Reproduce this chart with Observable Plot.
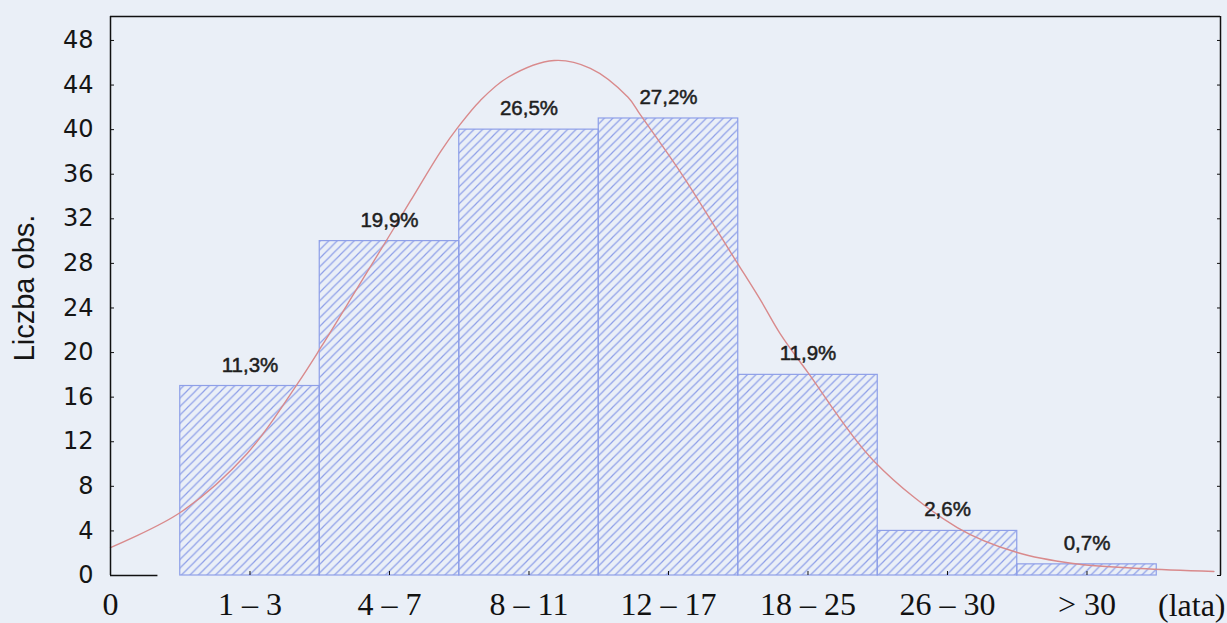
<!DOCTYPE html>
<html>
<head>
<meta charset="utf-8">
<script src="https://cdn.jsdelivr.net/npm/d3@7"></script>
<script src="https://cdn.jsdelivr.net/npm/@observablehq/plot@0.6"></script>
<style>
  html, body { margin: 0; padding: 0; background: #eaeff7; }
  #chart svg { display: block; background: #eaeff7; overflow: visible; }
</style>
</head>
<body>
<div id="chart"></div>
<script>
// ---- data ----
const categories = ["1 – 3", "4 – 7", "8 – 11", "12 – 17", "18 – 25", "26 – 30", "> 30"];
const counts = [17, 30, 40, 41, 18, 4, 1];
const percentLabels = ["11,3%", "19,9%", "26,5%", "27,2%", "11,9%", "2,6%", "0,7%"];
const yTicks = [0, 4, 8, 12, 16, 20, 24, 28, 32, 36, 40, 44, 48];
const yLabel = "Liczba obs.";
const unitLabel = "(lata)";
// fitted normal curve (x in bar-index units, y in counts)
const curveX = [0.00, 0.50, 0.98, 1.34, 1.51, 1.77, 1.99, 2.15, 2.37, 2.49, 2.65, 2.85, 3.18, 3.44, 3.71, 3.80, 4.09, 4.47, 4.66, 4.80, 5.00, 5.47, 6.07, 6.50, 6.90, 7.38, 7.91];
const curveY = [2.51, 5.65, 10.95, 17.2, 20.5, 25.8, 30.3, 33.6, 38.1, 40.2, 42.6, 44.7, 46.2, 45.5, 42.9, 41.3, 36.1, 28.5, 24.7, 21.7, 18.2, 10.3, 4.3, 2.06, 1.08, 0.63, 0.36];

const bars = categories.map((c, k) => ({i: k + 1, cat: c, count: counts[k], pct: percentLabels[k]}));
const curve = curveX.map((x, k) => ({x, y: curveY[k]}));

const xDomain = [0, 7.957];
const yDomain = [0, 50.15];
const axisStub = 0.34;

const sans = "'Liberation Sans', Arial, sans-serif";
const serif = "'Liberation Serif', 'Times New Roman', serif";
const barBlue = "#8e9fe8";

const chart = Plot.plot({
  width: 1227,
  height: 623,
  marginLeft: 110,
  marginRight: 7,
  marginTop: 16,
  marginBottom: 48,
  style: {background: "#eaeff7", color: "#111"},
  x: {type: "linear", domain: xDomain},
  y: {domain: yDomain},
  marks: [
    Plot.rect(bars, {
      x1: d => d.i - 0.5, x2: d => d.i + 0.5, y1: 0, y2: "count",
      fill: "url(#hatch)", stroke: barBlue, strokeWidth: 1.2
    }),
    Plot.line(curve, {x: "x", y: "y", curve: "catmull-rom", stroke: "#d98a8c", strokeWidth: 1.4}),
    Plot.text(bars, {
      x: "i", y: "count", text: "pct", dy: -21, lineAnchor: "middle",
      fontSize: 20.5, fontFamily: sans, fill: "#1e1e1e", stroke: "#1e1e1e", strokeWidth: 0.5
    }),
    // frame: left, right, top
    Plot.ruleX(xDomain, {stroke: "#111", strokeWidth: 1.5}),
    Plot.ruleY([yDomain[1]], {stroke: "#111", strokeWidth: 1.5}),
    Plot.ruleY([0], {x1: 0, x2: axisStub, stroke: "#111", strokeWidth: 1.5}),
    // inward ticks
    Plot.axisY({ticks: yTicks, anchor: "left", tickSize: -4, tickFormat: () => "", label: null}),
    Plot.axisY({ticks: yTicks, anchor: "right", tickSize: -4, tickFormat: () => "", label: null}),
    Plot.axisX({ticks: bars.map(d => d.i), anchor: "bottom", tickSize: -4, tickFormat: () => "", label: null}),
    // tick labels
    Plot.axisY({
      ticks: yTicks, anchor: "left", tickSize: 0, tickPadding: 17, label: null,
      fontSize: 24, fontFamily: "'DejaVu Sans', sans-serif", fill: "#151515"
    }),
    Plot.axisX({
      ticks: [0, ...bars.map(d => d.i)], anchor: "bottom", tickSize: 0, tickPadding: 17, label: null,
      tickFormat: v => v === 0 ? "0" : categories[v - 1],
      fontSize: 32, fontFamily: serif, fill: "#111"
    }),
    Plot.text([unitLabel], {
      text: d => d, frameAnchor: "bottom-right", textAnchor: "end", lineAnchor: "middle",
      dx: 5, dy: 30, fontSize: 32, fontFamily: serif, fill: "#111"
    }),
    Plot.text([yLabel], {
      text: d => d, frameAnchor: "left", rotate: -90, textAnchor: "middle", lineAnchor: "middle",
      dx: -86, dy: -8, fontSize: 29, fontFamily: sans, fill: "#151515"
    })
  ]
});

const defs = d3.select(chart).insert("defs", ":first-child");
const pat = defs.append("pattern")
  .attr("id", "hatch")
  .attr("patternUnits", "userSpaceOnUse")
  .attr("width", 8.5).attr("height", 8.5);
pat.append("path")
  .attr("d", "M-1,1 l2,-2 M0,8.5 l8.5,-8.5 M7.5,9.5 l2,-2")
  .attr("stroke", barBlue)
  .attr("stroke-width", 1.2)
  .attr("fill", "none");

document.getElementById("chart").appendChild(chart);
</script>
</body>
</html>
